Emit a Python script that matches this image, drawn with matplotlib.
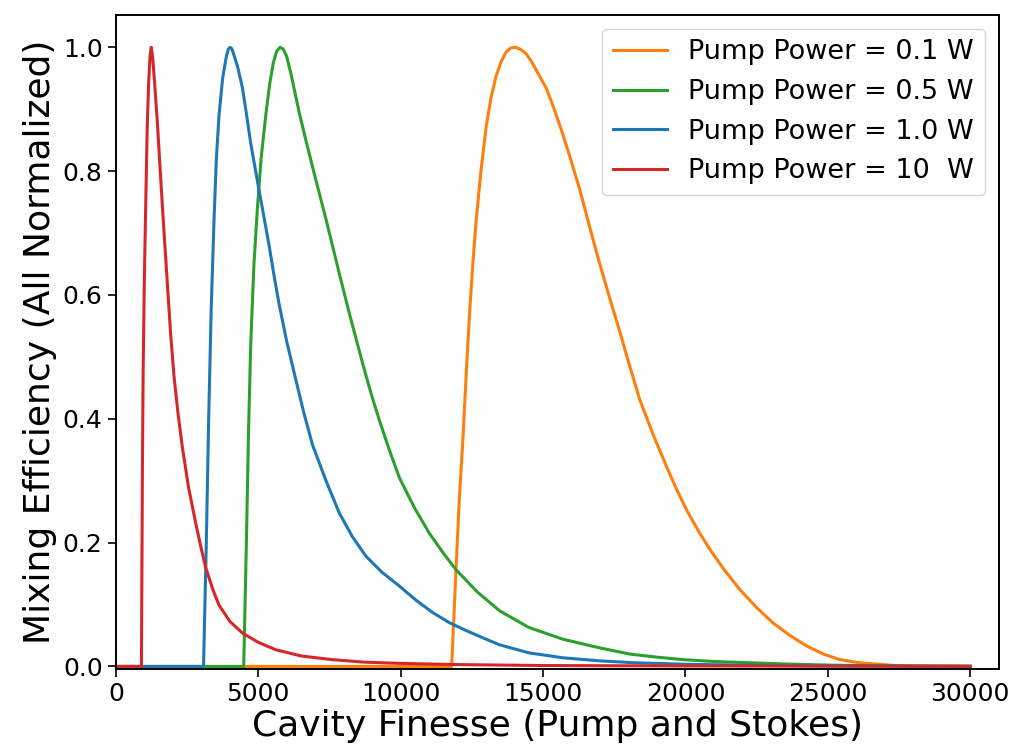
"""Mixing efficiency vs cavity finesse"""

import matplotlib
matplotlib.use("Agg")
import matplotlib.pyplot as plt
import numpy as np


LABELS = ["Pump Power = 0.1 W", "Pump Power = 0.5 W",
          "Pump Power = 1.0 W", "Pump Power = 10  W"]
COLORS = ["tab:orange", "tab:green", "tab:blue", "tab:red"]

# values
x_01 = [0, 11790, 11870, 11948, 12060, 12182, 12300, 12416, 12534, 12651,
        12820, 13003, 13180, 13355, 13530, 13700, 13870, 14034, 14200,
        14400, 14580, 14762, 15113, 15347, 15640, 15933, 16290, 16636,
        16930, 17340, 17700, 18044, 18396, 18860, 19335, 19700, 20038,
        20440, 20858, 21380, 21913, 22500, 23085, 23670, 24260, 24840,
        25431, 26100, 26954, 27500, 28000, 30000]
y_01 = [0, 0, 0.08, 0.16, 0.27, 0.363, 0.47, 0.567, 0.65, 0.72,
        0.8, 0.872, 0.92, 0.954, 0.977, 0.992, 0.999, 1.0, 0.997,
        0.99, 0.978, 0.963, 0.934, 0.906, 0.867, 0.825, 0.77, 0.71,
        0.66, 0.595, 0.54, 0.485, 0.431, 0.375, 0.323, 0.285, 0.253,
        0.22, 0.189, 0.155, 0.124, 0.095, 0.070, 0.05, 0.033, 0.02,
        0.011, 0.006, 0.003, 0.001, 0, 0]

x_05 = [0, 4490, 4584, 4660, 4736, 4850, 4971, 5100, 5264, 5400, 5530,
        5650, 5768, 5880, 6000, 6150, 6437, 6672, 7000, 7376, 7844, 8200,
        8547, 8782, 9000, 9251, 9600, 9954, 10500, 11010, 11500, 11948,
        12700, 13472, 14500, 15699, 16989, 18044, 19000, 19919, 21000,
        22265, 23500, 25200, 27500, 30000]
y_05 = [0, 0, 0.2, 0.38, 0.52, 0.65, 0.74, 0.82, 0.89, 0.94, 0.975,
        0.994, 1.0, 0.997, 0.985, 0.957, 0.895, 0.85, 0.79, 0.723, 0.635, 0.57,
        0.51, 0.47, 0.435, 0.398, 0.35, 0.305, 0.255, 0.215, 0.183, 0.156,
        0.12, 0.09, 0.063, 0.044, 0.03, 0.02, 0.015, 0.011, 0.008,
        0.006, 0.004, 0.002, 0.001, 0.0004]

x_10 = [0, 3080, 3177, 3260, 3350, 3447, 3530, 3623, 3750, 3880, 3950,
        4010, 4070, 4130, 4280, 4443, 4561, 4736, 5006, 5264, 5381, 5560,
        5733, 6000, 6320, 6600, 6905, 7380, 7844, 8300, 8782, 9350, 9954,
        10540, 11126, 11700, 12300, 12900, 13472, 14500, 15700, 17000,
        18200, 20000, 22500, 25000, 30000]
y_10 = [0, 0, 0.2, 0.4, 0.58, 0.72, 0.82, 0.89, 0.95, 0.985, 0.997,
        1.0, 0.998, 0.99, 0.968, 0.935, 0.9, 0.845, 0.775, 0.71, 0.68, 0.63,
        0.585, 0.525, 0.463, 0.41, 0.358, 0.30, 0.248, 0.21, 0.178, 0.152,
        0.13, 0.107, 0.087, 0.071, 0.058, 0.046, 0.035, 0.022, 0.014, 0.009,
        0.006, 0.0035, 0.0017, 0.0008, 0.0002]

x_100 = [0, 900, 915, 935, 960, 1000, 1043, 1102, 1150, 1200, 1243, 1290,
         1350, 1454, 1560, 1665, 1800, 1920, 2040, 2180, 2333, 2550, 2802,
         3000, 3155, 3400, 3623, 4000, 4444, 5000, 5616, 6500, 7600, 8700,
         9950, 12000, 15000, 20000, 30000]
y_100 = [0, 0, 0.15, 0.33, 0.48, 0.62, 0.73, 0.87, 0.94, 0.985, 1.0, 0.985,
         0.95, 0.882, 0.8, 0.721, 0.625, 0.54, 0.47, 0.41, 0.355, 0.29, 0.232,
         0.19, 0.16, 0.125, 0.099, 0.073, 0.054, 0.039, 0.027, 0.017, 0.011,
         0.007, 0.005, 0.003, 0.0015, 0.0008, 0.0003]


def main():
    """
    Main
    """
    fig = plt.figure(figsize=(10.16, 7.55), dpi=100)
    ax = fig.add_axes([0.114, 0.114, 0.869, 0.866])

    series = [(x_01, y_01), (x_05, y_05), (x_10, y_10), (x_100, y_100)]
    for (xs, ys), lab, col in zip(series, LABELS, COLORS):
        ax.plot(np.array(xs), np.array(ys), color=col, lw=2.2, label=lab)

    ax.set_xlim(0, 31000)
    ax.set_ylim(-0.004, 1.052)
    ax.set_xticks([0, 5000, 10000, 15000, 20000, 25000, 30000])
    ax.set_yticks([0.0, 0.2, 0.4, 0.6, 0.8, 1.0])
    ax.tick_params(labelsize=18, length=6, width=1.2)
    for sp in ax.spines.values():
        sp.set_linewidth(1.4)

    ax.set_xlabel("Cavity Finesse (Pump and Stokes)", fontsize=26, labelpad=2)
    ax.set_ylabel("Mixing Efficiency (All Normalized)", fontsize=26, labelpad=4)
    ax.legend(loc="upper right", fontsize=19.5)

    fig.savefig("out.png", dpi=100)


main()
